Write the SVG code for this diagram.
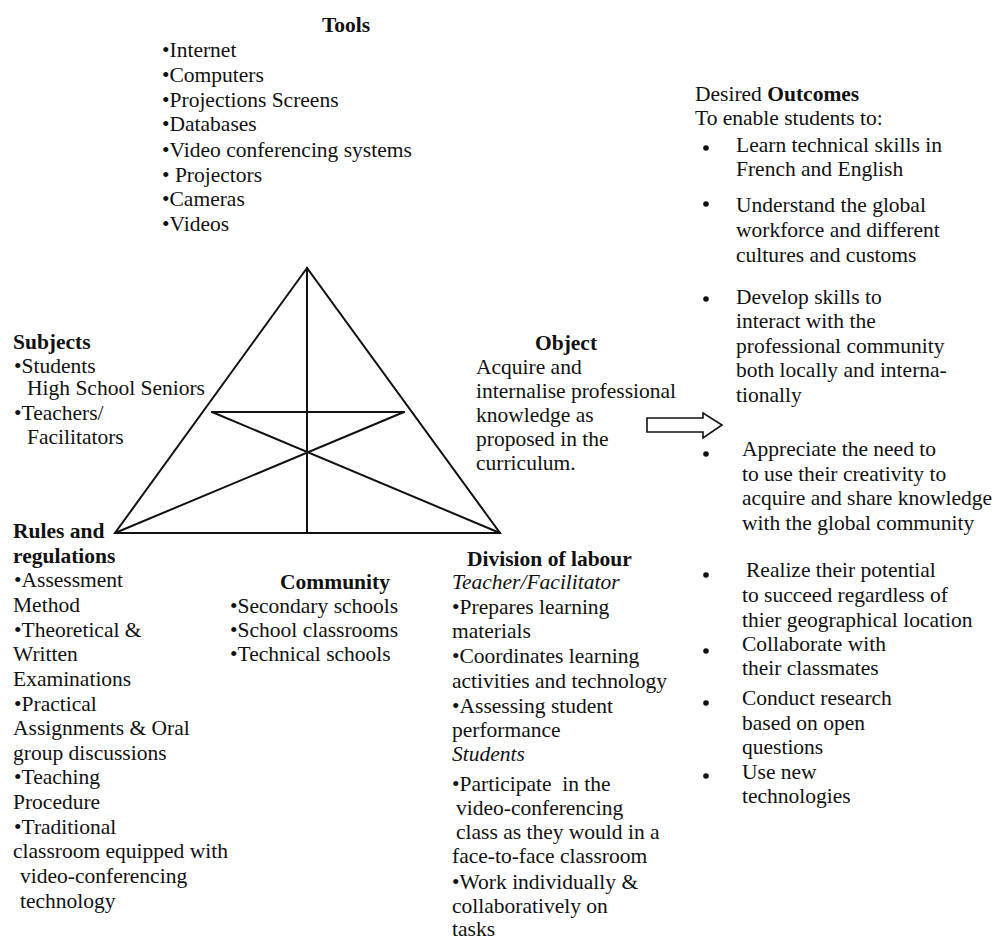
<svg xmlns="http://www.w3.org/2000/svg" width="1003" height="941" viewBox="0 0 1003 941">
<style>
text{font-family:"Liberation Serif","Times New Roman",serif;font-size:21.5px;fill:#111}
.b{font-weight:bold}
.i{font-style:italic}
.m{text-anchor:middle}
.ln{stroke:#111;stroke-width:2;fill:none;stroke-linecap:round}
.dot{fill:#111}
</style>
<rect width="1003" height="941" fill="#fff"/>
<g id="connectors">
<polygon class="ln" points="307,268 115,533 500,533"/>
<line class="ln" x1="307" y1="268" x2="307" y2="533"/>
<line class="ln" x1="212" y1="412" x2="404" y2="412"/>
<line class="ln" x1="212" y1="412" x2="500" y2="533"/>
<line class="ln" x1="404" y1="412" x2="115" y2="533"/>
<polygon id="arrow" points="647,418 703,418 703,413 722,425 703,438 703,432 647,432" fill="#fff" stroke="#111" stroke-width="1.6" stroke-linejoin="miter"/>
</g>
<g id="tools">
<text class="b m" x="346" y="32">Tools</text>
<text x="162" y="57">•Internet</text>
<text x="162" y="82">•Computers</text>
<text x="162" y="107">•Projections Screens</text>
<text x="162" y="131">•Databases</text>
<text x="162" y="157">•Video conferencing systems</text>
<text x="162" y="182">• Projectors</text>
<text x="162" y="206">•Cameras</text>
<text x="162" y="231">•Videos</text>
</g>
<g id="subjects">
<text class="b" x="13" y="349">Subjects</text>
<text x="14" y="373">•Students</text>
<text x="27" y="395">High School Seniors</text>
<text x="14" y="420">•Teachers/</text>
<text x="27" y="444">Facilitators</text>
</g>
<g id="object">
<text class="b m" x="566" y="350">Object</text>
<text x="476" y="374">Acquire and</text>
<text x="476" y="398">internalise professional</text>
<text x="476" y="422">knowledge as</text>
<text x="476" y="446">proposed in the</text>
<text x="476" y="470">curriculum.</text>
</g>
<g id="rules">
<text class="b" x="13" y="538">Rules and</text>
<text class="b" x="13" y="563">regulations</text>
<text x="14" y="587">•Assessment</text>
<text x="13" y="612">Method</text>
<text x="14" y="637">•Theoretical &amp;</text>
<text x="13" y="661">Written</text>
<text x="13" y="686">Examinations</text>
<text x="14" y="711">•Practical</text>
<text x="13" y="735">Assignments &amp; Oral</text>
<text x="13" y="760">group discussions</text>
<text x="14" y="784">•Teaching</text>
<text x="13" y="809">Procedure</text>
<text x="14" y="834">•Traditional</text>
<text x="13" y="858">classroom  equipped with</text>
<text x="20" y="883">video-conferencing</text>
<text x="20" y="908">technology</text>
</g>
<g id="community">
<text class="b m" x="335" y="589">Community</text>
<text x="230" y="613">•Secondary schools</text>
<text x="230" y="637">•School classrooms</text>
<text x="230" y="661">•Technical schools</text>
</g>
<g id="division">
<text class="b" x="467" y="566">Division of labour</text>
<text class="i" x="452" y="589">Teacher/Facilitator</text>
<text x="452" y="614">•Prepares learning</text>
<text x="452" y="638">materials</text>
<text x="452" y="663">•Coordinates learning</text>
<text x="452" y="688">activities and technology</text>
<text x="452" y="713">•Assessing student</text>
<text x="452" y="737">performance</text>
<text class="i" x="452" y="761">Students</text>
<text x="452" y="791" xml:space="preserve">•Participate  in the</text>
<text x="456" y="815">video-conferencing</text>
<text x="456" y="839">class as they would in a</text>
<text x="452" y="863">face-to-face classroom</text>
<text x="452" y="889">•Work individually &amp;</text>
<text x="452" y="913">collaboratively on</text>
<text x="452" y="936">tasks</text>
</g>
<g id="outcomes">
<text x="695" y="101">Desired <tspan class="b">Outcomes</tspan></text>
<text x="695" y="125">To enable students to:</text>
<circle class="dot" cx="706" cy="148" r="2.8"/>
<text x="736" y="152">Learn technical skills in</text>
<text x="736" y="176">French and English</text>
<circle class="dot" cx="706" cy="204" r="2.8"/>
<text x="736" y="212">Understand the global</text>
<text x="736" y="237">workforce and different</text>
<text x="736" y="262">cultures and customs</text>
<circle class="dot" cx="706" cy="299" r="2.8"/>
<text x="736" y="304">Develop skills to</text>
<text x="736" y="328">interact with the</text>
<text x="736" y="353">professional community</text>
<text x="736" y="377">both locally and interna-</text>
<text x="736" y="402">tionally</text>
<circle class="dot" cx="706" cy="454" r="2.8"/>
<text x="742" y="456">Appreciate the need to</text>
<text x="742" y="481">to use their creativity to</text>
<text x="742" y="505">acquire and share knowledge</text>
<text x="742" y="530">with the global community</text>
<circle class="dot" cx="706" cy="575" r="2.8"/>
<text x="746" y="577">Realize their potential</text>
<text x="742" y="602">to succeed regardless of</text>
<text x="742" y="627">thier geographical location</text>
<circle class="dot" cx="706" cy="651" r="2.8"/>
<text x="742" y="651">Collaborate with</text>
<text x="742" y="675">their classmates</text>
<circle class="dot" cx="706" cy="703" r="2.8"/>
<text x="742" y="705">Conduct research</text>
<text x="742" y="730">based on open</text>
<text x="742" y="754">questions</text>
<circle class="dot" cx="706" cy="776" r="2.8"/>
<text x="742" y="779">Use new</text>
<text x="742" y="803">technologies</text>
</g>
</svg>
